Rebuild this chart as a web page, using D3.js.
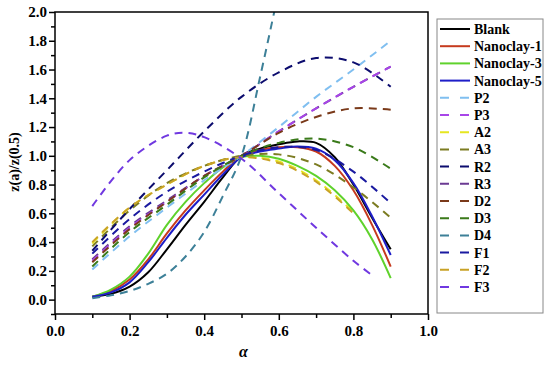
<!DOCTYPE html>
<html>
<head>
<meta charset="utf-8">
<script src="https://cdn.jsdelivr.net/npm/d3@7"></script>
<style>
  body { margin: 0; background: #fff; }
</style>
</head>
<body>
<div id="chart"></div>
<script>
// α grids
const alphaFine = [0.1, 0.15, 0.2, 0.25, 0.3, 0.35, 0.4, 0.45, 0.5, 0.55, 0.6, 0.65, 0.7, 0.75, 0.8, 0.85, 0.9];
const alphaCoarse = [0.1, 0.2, 0.3, 0.4, 0.5, 0.6, 0.7, 0.8, 0.9];
const alphaShort = [0.1, 0.2, 0.3, 0.4, 0.5, 0.6, 0.7, 0.8];
const alphaF3 = [0.1, 0.2, 0.3, 0.35, 0.4, 0.5, 0.6, 0.7, 0.8, 0.85];
const alphaD4 = [0.1, 0.15, 0.2, 0.25, 0.3, 0.35, 0.4, 0.45, 0.5, 0.55, 0.6];

// z(a)/z(0.5) values
const blank     = [0.02, 0.04, 0.09, 0.19, 0.35, 0.52, 0.68, 0.85, 1.0, 1.05, 1.08, 1.10, 1.09, 0.99, 0.80, 0.57, 0.35];
const nanoclay1 = [0.02, 0.06, 0.14, 0.28, 0.46, 0.62, 0.76, 0.89, 1.0, 1.04, 1.06, 1.06, 1.03, 0.93, 0.76, 0.52, 0.23];
const nanoclay3 = [0.02, 0.07, 0.16, 0.32, 0.52, 0.68, 0.81, 0.92, 0.99, 1.0, 0.98, 0.93, 0.86, 0.76, 0.62, 0.42, 0.15];
const nanoclay5 = [0.02, 0.05, 0.12, 0.26, 0.43, 0.59, 0.73, 0.87, 0.99, 1.03, 1.05, 1.065, 1.05, 0.97, 0.81, 0.58, 0.31];

const p2 = [0.21, 0.44, 0.64, 0.83, 1.0, 1.20, 1.41, 1.60, 1.80];
const p3 = [0.27, 0.50, 0.68, 0.86, 1.0, 1.17, 1.33, 1.48, 1.62];
const a2 = [0.39, 0.64, 0.80, 0.93, 0.99, 0.96, 0.83, 0.61];
const a3 = [0.37, 0.62, 0.81, 0.93, 1.0, 1.01, 0.94, 0.78, 0.57];
const r2 = [0.34, 0.63, 0.90, 1.17, 1.41, 1.58, 1.68, 1.65, 1.48];
const r3 = [0.28, 0.51, 0.69, 0.86, 1.0, 1.17, 1.33, 1.48, 1.62];
const d2 = [0.26, 0.49, 0.68, 0.86, 1.0, 1.16, 1.27, 1.33, 1.32];
const d3v = [0.23, 0.47, 0.66, 0.85, 1.0, 1.09, 1.12, 1.06, 0.91];
const d4 = [0.01, 0.03, 0.06, 0.11, 0.18, 0.30, 0.47, 0.72, 1.0, 1.55, 2.15];
const f1 = [0.32, 0.56, 0.75, 0.89, 1.0, 1.06, 1.04, 0.89, 0.67];
const f2 = [0.40, 0.64, 0.80, 0.93, 0.99, 0.95, 0.82, 0.60];
const f3 = [0.65, 0.97, 1.14, 1.16, 1.13, 0.98, 0.74, 0.50, 0.27, 0.17];

const xTicks = [0, 0.2, 0.4, 0.6, 0.8, 1.0];
const yTicks = [0, 0.2, 0.4, 0.6, 0.8, 1.0, 1.2, 1.4, 1.6, 1.8, 2.0];

const series = [
  { name: 'Blank',      xs: alphaFine,   ys: blank,     color: '#000000', dashed: false },
  { name: 'Nanoclay-1', xs: alphaFine,   ys: nanoclay1, color: '#c63a1e', dashed: false },
  { name: 'Nanoclay-3', xs: alphaFine,   ys: nanoclay3, color: '#5fd22c', dashed: false },
  { name: 'Nanoclay-5', xs: alphaFine,   ys: nanoclay5, color: '#1e1ec8', dashed: false },
  { name: 'P2',         xs: alphaCoarse, ys: p2,        color: '#80bff0', dashed: true },
  { name: 'P3',         xs: alphaCoarse, ys: p3,        color: '#a845e8', dashed: true },
  { name: 'A2',         xs: alphaShort,  ys: a2,        color: '#e6e620', dashed: true },
  { name: 'A3',         xs: alphaCoarse, ys: a3,        color: '#7c7c22', dashed: true },
  { name: 'R2',         xs: alphaCoarse, ys: r2,        color: '#0c0c6e', dashed: true },
  { name: 'R3',         xs: alphaCoarse, ys: r3,        color: '#6b3a93', dashed: true },
  { name: 'D2',         xs: alphaCoarse, ys: d2,        color: '#7a3a1a', dashed: true },
  { name: 'D3',         xs: alphaCoarse, ys: d3v,       color: '#3a7a1a', dashed: true },
  { name: 'D4',         xs: alphaD4,     ys: d4,        color: '#3d8098', dashed: true },
  { name: 'F1',         xs: alphaCoarse, ys: f1,        color: '#1a1aa0', dashed: true },
  { name: 'F2',         xs: alphaShort,  ys: f2,        color: '#c9a227', dashed: true },
  { name: 'F3',         xs: alphaF3,     ys: f3,        color: '#7038e0', dashed: true }
];
// R3 sits under P3 in the picture, so draw it first
const drawOrder = ['R3', 'A2'];

const width = 550;
const height = 365;
const margin = { top: 12, right: 122, bottom: 51, left: 55 };
const innerW = width - margin.left - margin.right;
const innerH = height - margin.top - margin.bottom;
const font = '"Liberation Serif", "Times New Roman", serif';

const svg = d3.select('#chart')
  .append('svg')
  .attr('width', width)
  .attr('height', height);

const g = svg.append('g')
  .attr('transform', `translate(${margin.left},${margin.top})`);

const x = d3.scaleLinear().domain([0, 1]).range([0, innerW]);
const y = d3.scaleLinear().domain([-0.1, 2.0]).range([innerH, 0]);

g.append('clipPath').attr('id', 'plot-clip')
  .append('rect').attr('width', innerW).attr('height', innerH);

// Curves
const line = d3.line()
  .x(d => x(d[0]))
  .y(d => y(d[1]))
  .curve(d3.curveCatmullRom.alpha(0.5));

const ordered = series.filter(s => drawOrder.includes(s.name))
  .concat(series.filter(s => !drawOrder.includes(s.name)));

const curves = g.append('g').attr('clip-path', 'url(#plot-clip)');
ordered.forEach(s => {
  curves.append('path')
    .datum(s.xs.map((a, i) => [a, s.ys[i]]))
    .attr('d', line)
    .attr('fill', 'none')
    .attr('stroke', s.color)
    .attr('stroke-width', 2)
    .attr('stroke-dasharray', s.dashed ? '8,6' : null);
});

// Axes: major + minor ticks
function styleAxis(sel) {
  sel.select('.domain').remove();
  sel.selectAll('line').attr('stroke', '#000').attr('stroke-width', 1.5);
  sel.selectAll('text')
    .attr('fill', '#000')
    .attr('font-size', '15px')
    .attr('font-weight', 'bold')
    .attr('font-family', font);
}

g.append('g')
  .attr('transform', `translate(0,${innerH})`)
  .call(d3.axisBottom(x).tickValues(d3.range(0.1, 1.0, 0.2)).tickSize(4).tickFormat(''))
  .call(styleAxis);

g.append('g')
  .attr('transform', `translate(0,${innerH})`)
  .call(d3.axisBottom(x).tickValues(xTicks).tickSize(6).tickPadding(5).tickFormat(d3.format('.1f')))
  .call(styleAxis);

g.append('g')
  .call(d3.axisLeft(y).tickValues(d3.range(-0.1, 2.0, 0.2)).tickSize(4).tickFormat(''))
  .call(styleAxis);

g.append('g')
  .call(d3.axisLeft(y).tickValues(yTicks).tickSize(6).tickPadding(2).tickFormat(d3.format('.1f')))
  .call(styleAxis);

// Frame
g.append('rect')
  .attr('width', innerW)
  .attr('height', innerH)
  .attr('fill', 'none')
  .attr('stroke', '#000')
  .attr('stroke-width', 1.5);

// Axis titles
svg.append('text')
  .attr('x', margin.left + x(0.505))
  .attr('y', 357)
  .attr('text-anchor', 'middle')
  .attr('font-family', font)
  .attr('font-size', '16px')
  .attr('font-style', 'italic')
  .attr('font-weight', 'bold')
  .text('α');

svg.append('text')
  .attr('transform', 'translate(19,162) rotate(-90)')
  .attr('text-anchor', 'middle')
  .attr('font-family', font)
  .attr('font-size', '14px')
  .attr('font-weight', 'bold')
  .text('z(a)/z(0.5)');

// Legend
const legend = svg.append('g').attr('transform', 'translate(437,19)');
legend.append('rect')
  .attr('width', 106)
  .attr('height', 294)
  .attr('fill', '#fff')
  .attr('stroke', '#888')
  .attr('stroke-width', 1);

series.forEach((s, i) => {
  const ly = 10 + i * 17.2;
  legend.append('line')
    .attr('x1', 3).attr('x2', 33)
    .attr('y1', ly).attr('y2', ly)
    .attr('stroke', s.color)
    .attr('stroke-width', 2)
    .attr('stroke-dasharray', s.dashed ? '9,11' : null);
  legend.append('text')
    .attr('x', 37)
    .attr('y', ly)
    .attr('dy', '0.35em')
    .attr('font-family', font)
    .attr('font-size', '14px')
    .attr('font-weight', 'bold')
    .text(s.name);
});
</script>
</body>
</html>
